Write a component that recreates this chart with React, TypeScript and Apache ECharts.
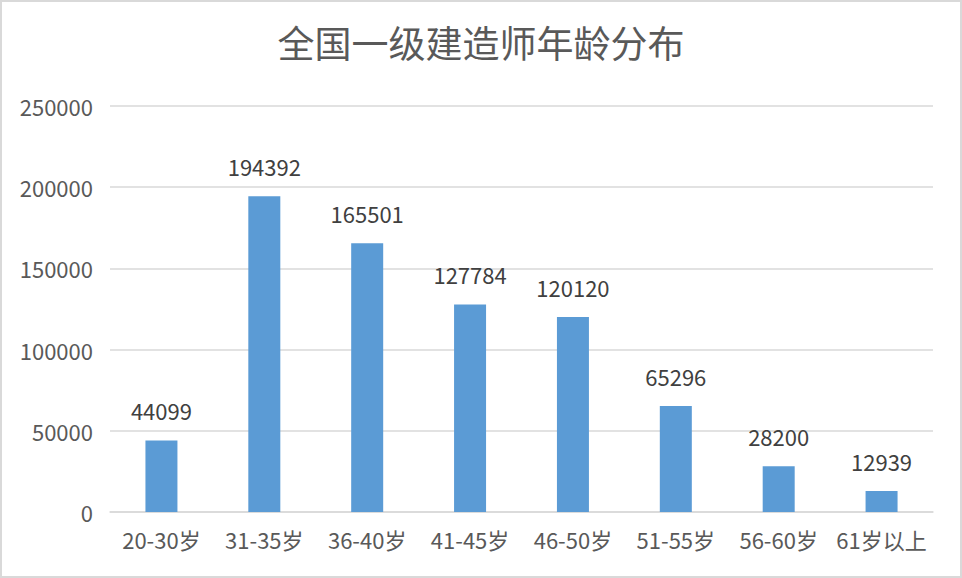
import { useEffect, useRef } from 'react'
import * as echarts from 'echarts'

const categories = ['20-30岁', '31-35岁', '36-40岁', '41-45岁', '46-50岁', '51-55岁', '56-60岁', '61岁以上']
const counts = [44099, 194392, 165501, 127784, 120120, 65296, 28200, 12939]
const title = '全国一级建造师年龄分布'

const FONT = '"Noto Sans CJK SC", "Noto Sans", sans-serif'

const App: React.FC = () => {
  const chartRef = useRef<HTMLDivElement | null>(null)

  useEffect(() => {
    document.body.style.margin = '0'
    if (!chartRef.current) return
    const chart = echarts.init(chartRef.current, null, { renderer: 'svg' })

    const option: echarts.EChartsOption = {
      animation: false,
      backgroundColor: '#ffffff',
      textStyle: { fontFamily: FONT },
      title: {
        text: title,
        left: 'center',
        top: 16,
        textStyle: { color: '#595959', fontSize: 37, fontWeight: 'normal', fontFamily: FONT },
      },
      grid: { left: 108, right: 27, top: 104, bottom: 64 },
      xAxis: {
        type: 'category',
        data: categories,
        axisLine: { lineStyle: { color: '#d9d9d9', width: 1.5 } },
        axisTick: { show: false },
        axisLabel: { color: '#595959', fontSize: 22, margin: 16, interval: 0, fontFamily: FONT },
      },
      yAxis: {
        type: 'value',
        min: 0,
        max: 250000,
        interval: 50000,
        axisLine: { show: false },
        axisTick: { show: false },
        axisLabel: {
          color: '#595959',
          fontSize: 22,
          margin: 17,
          fontFamily: FONT,
          formatter: (v: number) => String(v),
        },
        splitLine: { lineStyle: { color: '#d9d9d9', width: 1.5 } },
      },
      series: [
        {
          type: 'bar',
          data: counts,
          barWidth: 32,
          itemStyle: { color: '#5b9bd5' },
          label: {
            show: true,
            position: 'top',
            distance: 19,
            color: '#404040',
            fontSize: 22,
            fontFamily: FONT,
          },
        },
      ],
    }

    chart.setOption(option)
    return () => chart.dispose()
  }, [])

  return (
    <div
      style={{
        width: 962,
        height: 578,
        boxSizing: 'border-box',
        border: '2px solid #d9d9d9',
        background: '#fff',
      }}
    >
      <div ref={chartRef} style={{ width: '100%', height: '100%' }} />
    </div>
  )
}

export default App
